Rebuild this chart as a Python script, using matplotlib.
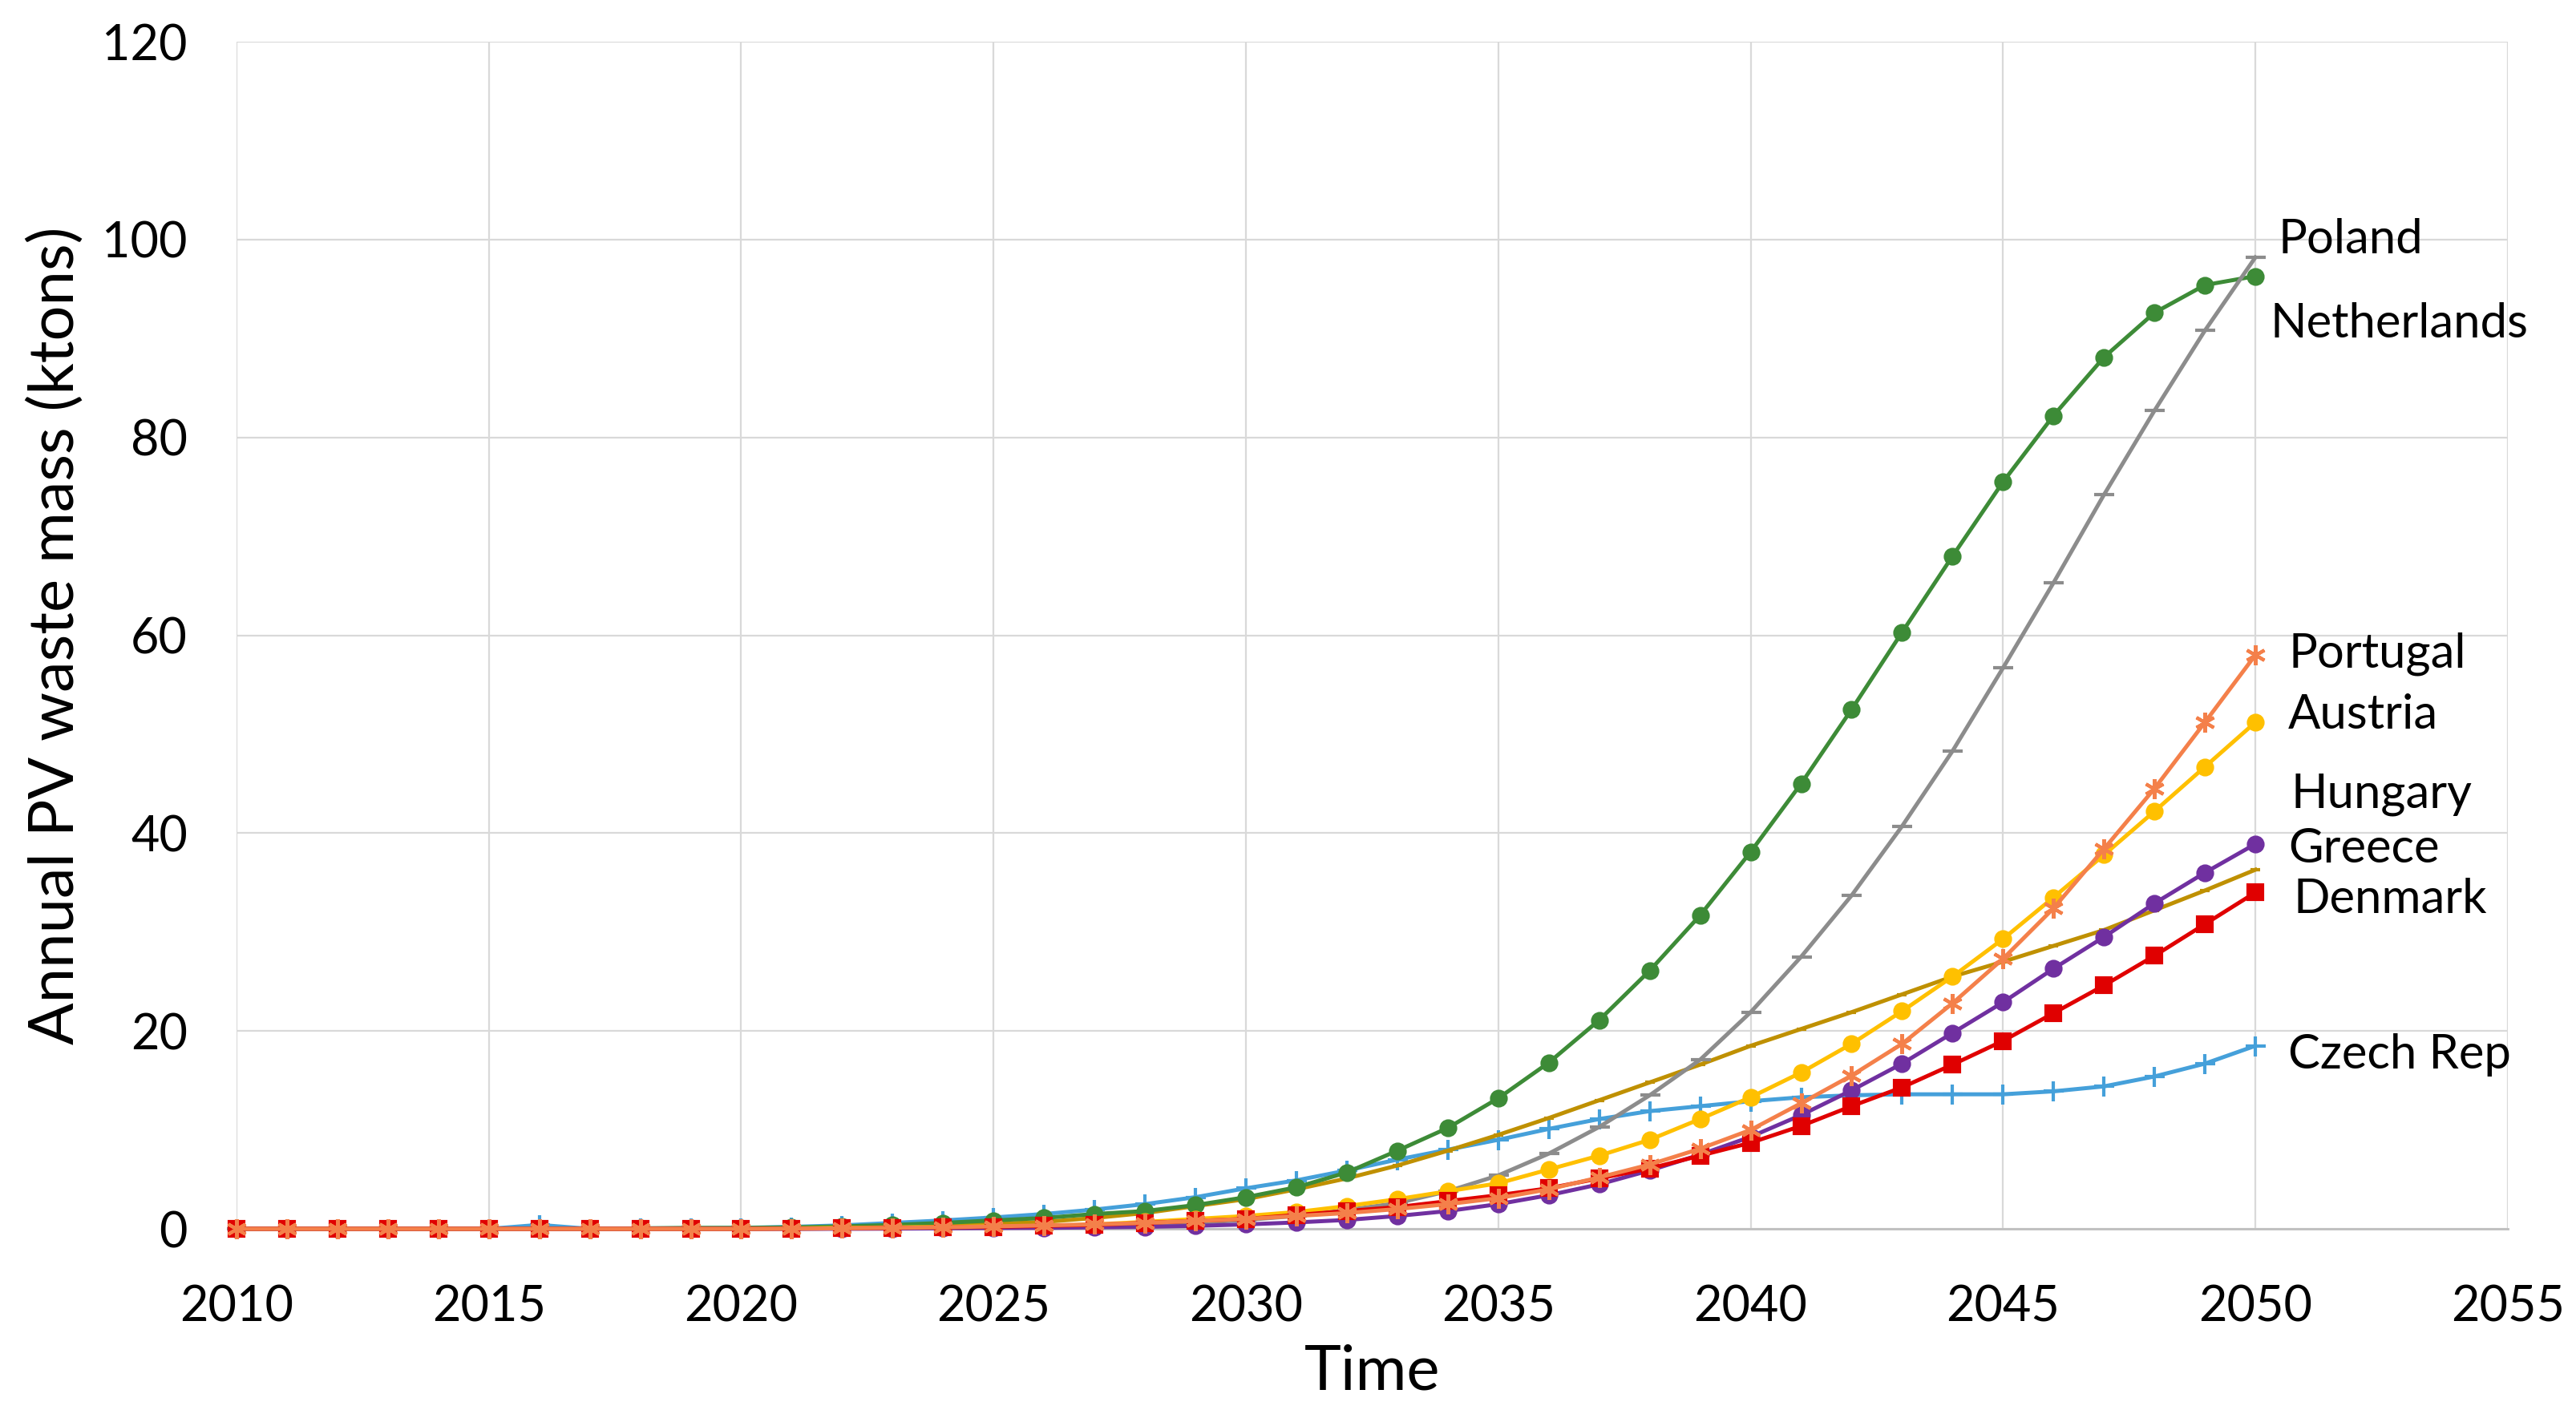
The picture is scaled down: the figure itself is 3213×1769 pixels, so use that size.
import matplotlib
matplotlib.use("Agg")
import matplotlib.pyplot as plt
import numpy as np

plt.rcParams['font.family'] = ['Lato', 'DejaVu Sans']

years = list(range(2010, 2051))

czech = [0, 0, 0, 0, 0, 0, 0.4, 0, 0.05, 0.05, 0.1, 0.2, 0.35, 0.6, 0.85, 1.15,
         1.5, 1.95, 2.5, 3.2, 4.1, 4.9, 5.9, 7.0, 8.0, 9.0, 10.1, 11.1, 11.9, 12.4,
         12.9, 13.3, 13.5, 13.6, 13.6, 13.6, 13.9, 14.4, 15.4, 16.7, 18.5]
netherlands = [0, 0, 0, 0, 0, 0, 0, 0, 0.05, 0.1, 0.1, 0.15, 0.25, 0.4, 0.6, 0.85,
               1.1, 1.5, 1.8, 2.4, 3.2, 4.2, 5.7, 7.9, 10.2, 13.2, 16.8, 21.1, 26.1, 31.7,
               38.1, 45.0, 52.5, 60.3, 68.0, 75.5, 82.2, 88.1, 92.6, 95.4, 96.3]
poland = [0, 0, 0, 0, 0, 0, 0, 0, 0, 0, 0, 0.02, 0.05, 0.08, 0.12, 0.15,
          0.2, 0.3, 0.4, 0.6, 0.9, 1.3, 1.9, 2.6, 3.8, 5.4, 7.6, 10.3, 13.5, 17.1,
          21.9, 27.5, 33.7, 40.7, 48.3, 56.7, 65.3, 74.2, 82.7, 90.8, 98.2]
portugal = [0, 0, 0, 0, 0, 0, 0, 0, 0, 0, 0, 0.02, 0.05, 0.1, 0.15, 0.25,
            0.35, 0.45, 0.6, 0.8, 1.0, 1.3, 1.6, 2.0, 2.5, 3.1, 4.0, 5.2, 6.5, 8.1,
            10.0, 12.7, 15.5, 18.7, 22.8, 27.3, 32.4, 38.4, 44.5, 51.2, 58.0]
austria = [0, 0, 0, 0, 0, 0, 0, 0, 0, 0, 0, 0.05, 0.1, 0.15, 0.2, 0.25,
           0.3, 0.45, 0.7, 1.0, 1.3, 1.7, 2.3, 3.0, 3.8, 4.6, 6.0, 7.4, 9.0, 11.1,
           13.3, 15.8, 18.7, 22.0, 25.5, 29.3, 33.5, 37.8, 42.2, 46.7, 51.2]
hungary = [0, 0, 0, 0, 0, 0, 0, 0, 0, 0, 0.02, 0.05, 0.1, 0.2, 0.35, 0.5,
           0.7, 1.1, 1.6, 2.3, 3.0, 4.0, 5.1, 6.4, 7.9, 9.5, 11.2, 13.0, 14.8, 16.6,
           18.5, 20.2, 21.9, 23.7, 25.5, 27.0, 28.6, 30.2, 32.2, 34.2, 36.3]
greece = [0, 0, 0, 0, 0, 0, 0, 0, 0, 0, 0, 0, 0, 0.02, 0.05, 0.08,
          0.1, 0.15, 0.2, 0.3, 0.45, 0.65, 0.9, 1.3, 1.8, 2.5, 3.4, 4.5, 5.9, 7.5,
          9.3, 11.5, 14.0, 16.7, 19.8, 22.9, 26.3, 29.5, 32.9, 36.0, 38.9]
denmark = [0, 0, 0, 0, 0, 0, 0, 0, 0, 0, 0, 0.02, 0.05, 0.1, 0.15, 0.2,
           0.3, 0.4, 0.6, 0.8, 1.0, 1.4, 1.8, 2.2, 2.8, 3.4, 4.1, 5.1, 6.1, 7.4,
           8.7, 10.4, 12.4, 14.3, 16.6, 19.0, 21.8, 24.6, 27.6, 30.8, 34.0]

x_ticks = [2010, 2015, 2020, 2025, 2030, 2035, 2040, 2045, 2050, 2055]
y_ticks = [0, 20, 40, 60, 80, 100, 120]

# (name, values, colour, marker, markersize, label position (x, y))
series = [
    ("Czech Rep", czech, "#45A0DA", "+", 9, (2050.65, 17.6)),
    ("Hungary", hungary, "#BF9000", "_", 4, (2050.7, 43.9)),
    ("Netherlands", netherlands, "#3D8B37", "o", 6.5, (2050.3, 91.5)),
    ("Poland", poland, "#8C8C8C", "_", 9, (2050.45, 100.0)),
    ("Austria", austria, "#FFC000", "o", 6.5, (2050.65, 51.9)),
    ("Greece", greece, "#7030A0", "o", 6.5, (2050.65, 38.4)),
    ("Denmark", denmark, "#E00000", "s", 6.5, (2050.75, 33.3)),
    ("Portugal", portugal, "#F4804A", (6, 2, 0), 9, (2050.65, 58.1)),
]

fig = plt.figure(figsize=(3213 / 200, 1769 / 200), dpi=200)
ax = fig.add_axes([0.0918, 0.1334, 0.8817, 0.8372])

for name, vals, col, mk, ms, pos in series:
    ax.plot(years, vals, color=col, lw=1.8, marker=mk, markersize=ms,
            markeredgewidth=1.5, markeredgecolor=col, markerfacecolor=col,
            clip_on=False, zorder=3)
    ax.text(pos[0], pos[1], name, fontsize=21.5, va="center", ha="left",
            color="black", zorder=4)

ax.set_xlim(2010, 2055)
ax.set_ylim(0, 120)
ax.set_xticks(x_ticks)
ax.set_yticks(y_ticks)
ax.grid(True, color="#D9D9D9", lw=0.8, zorder=0)
ax.set_axisbelow(True)
for s in ["top", "right", "left"]:
    ax.spines[s].set_visible(False)
ax.spines["bottom"].set_color("#BFBFBF")
ax.spines["bottom"].set_linewidth(1.0)
ax.tick_params(axis="x", length=0, labelsize=22, pad=25)
ax.tick_params(axis="y", length=0, labelsize=22, pad=22)
ax.set_xlabel("Time", fontsize=28, labelpad=6)
ax.set_ylabel("Annual PV waste mass (ktons)", fontsize=28, labelpad=8)

fig.savefig("out.png", dpi=200, facecolor="white")
